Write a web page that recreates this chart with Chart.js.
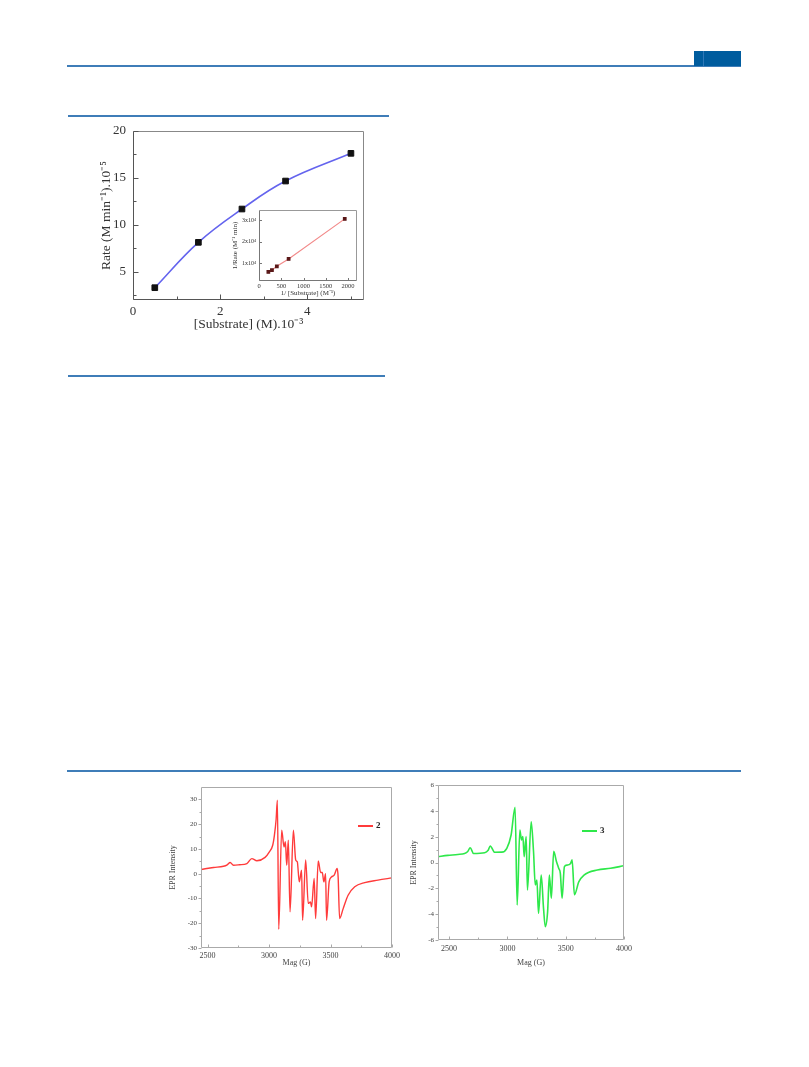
<!DOCTYPE html>
<html>
<head>
<meta charset="utf-8">
<script src="https://cdn.jsdelivr.net/npm/chart.js@4.4.0/dist/chart.umd.min.js"></script>
<style>
  body { margin: 0; background: #fff; }
  #page { position: relative; width: 809px; height: 1067px; overflow: hidden; background: #fff; }
  .rule { position: absolute; height: 2px; background: #3f7db8; }
  canvas { position: absolute; }
  .key { position: absolute; font: bold 9px "Liberation Serif", serif; color: #222; }
  .key span { display: inline-block; width: 15px; height: 1.5px; vertical-align: middle; margin-right: 3px; }
</style>
</head>
<body>
<div id="page">
  <div class="rule" style="left:67px;top:65px;width:674px;"></div>
  <div style="position:absolute;left:694px;top:51px;width:47px;height:15px;background:#005c9e;"></div>
  <div style="position:absolute;left:703px;top:51px;width:1px;height:15px;background:#2f78b8;"></div>

  <div class="rule" style="left:68px;top:115px;width:321px;"></div>
  <div class="rule" style="left:68px;top:375px;width:317px;"></div>
  <div class="rule" style="left:67px;top:770px;width:674px;"></div>

  <canvas id="mainChart" width="276" height="218" style="left:98px;top:115px;"></canvas>
  <canvas id="insetChart" width="134" height="94" style="left:231px;top:203px;"></canvas>
  <canvas id="eprRed" width="236" height="190" style="left:168px;top:778px;"></canvas>
  <canvas id="eprGreen" width="228" height="192" style="left:409px;top:776px;"></canvas>

  <div class="key" style="left:358px;top:820px;"><span style="background:#ff3b3b"></span>2</div>
  <div class="key" style="left:582px;top:825px;"><span style="background:#2ee84a"></span>3</div>
</div>

<script>
// main plot: rate vs [substrate]
const substrate = [0.5, 1.5, 2.5, 3.5, 5.0];
const rate = [3.31, 8.14, 11.69, 14.67, 17.62];
const mainXTicks = [0, 1, 2, 3, 4, 5];
const mainXLabels = [0, 2, 4];
const mainYTicks = [2.5, 5, 7.5, 10, 12.5, 15, 17.5, 20];
const mainYLabels = [5, 10, 15, 20];

// inset: double reciprocal plot
const invSubstrate = [210, 290, 400, 665, 1925];
const invRate = [6000, 6800, 8600, 12000, 30500];
const insetXTicks = [0, 500, 1000, 1500, 2000];
const insetYTicks = [10000, 20000, 30000];

// EPR spectrum of 2
const fieldRed = [2447, 2549, 2630, 2660, 2684, 2711, 2760, 2820, 2860, 2901, 2968, 3003, 3030, 3044, 3058, 3068,
  3079, 3103, 3122, 3133, 3144, 3157, 3171, 3198, 3217, 3230, 3246, 3265, 3273, 3298, 3319, 3337, 3346, 3367,
  3379, 3400, 3420, 3433, 3446, 3460, 3468, 3489, 3508, 3530, 3554, 3562, 3574, 3603, 3643, 3697, 3778, 3886, 4000];
const intensityRed = [1.7, 2.5, 3.0, 3.6, 4.5, 3.4, 3.6, 4.1, 6.1, 5.2, 6.6, 8.8, 11.5, 15.6, 22, 29.7,
  -22.4, 17.6, 10.8, 12.9, 3.4, 13.5, -15.4, 17.6, 5.5, 4.8, -3.3, 1.4, -18.8, 5.5, -12.0, -11.4, -13.4, -1.9,
  -18.1, 5.1, 0.5, 0.5, -3.3, 0.0, -18.8, -3.3, -1.3, -0.6, 2.1, -1.3, -18.1, -14.1, -8.7, -5.3, -3.6, -2.6, -1.7];
const redXTicks = [2500, 2750, 3000, 3250, 3500, 3750, 4000];
const redXLabels = [2500, 3000, 3500, 4000];
const redYTicks = [-30, -25, -20, -15, -10, -5, 0, 5, 10, 15, 20, 25, 30];
const redYLabels = [-30, -20, -10, 0, 10, 20, 30];

// EPR spectrum of 3
const fieldGreen = [2403, 2489, 2575, 2633, 2660, 2681, 2710, 2805, 2835, 2853, 2891, 2952, 2995, 3032, 3066,
  3084, 3107, 3121, 3133, 3144, 3161, 3172, 3204, 3224, 3239, 3253, 3267, 3290, 3310, 3325, 3345, 3360, 3377,
  3397, 3420, 3440, 3454, 3469, 3489, 3512, 3540, 3555, 3575, 3612, 3657, 3771, 3885, 4000];
const intensityGreen = [0.45, 0.55, 0.62, 0.7, 0.85, 1.14, 0.7, 0.76, 0.95, 1.28, 0.79, 0.8, 1.1, 2.13, 4.27,
  -3.29, 2.52, 1.74, 2.0, 0.45, 2.0, -2.13, 3.16, 0.87, -1.74, -1.35, -3.93, -0.97, -3.55, -4.97, -3.8, -0.97, -2.77,
  0.87, 0.1, -0.45, -0.84, -2.77, -0.32, -0.2, -0.1, 0.2, -2.5, -1.5, -0.97, -0.58, -0.45, -0.25];
const greenXTicks = [2500, 2750, 3000, 3250, 3500, 3750, 4000];
const greenXLabels = [2500, 3000, 3500, 4000];
const greenYTicks = [-6, -5, -4, -3, -2, -1, 0, 1, 2, 3, 4, 5, 6];
const greenYLabels = [-6, -4, -2, 0, 2, 4, 6];

const serif = '"Liberation Serif", "Times New Roman", serif';

// box around the plot area plus tick marks taken from the scales
const framePlugin = {
  id: 'frame',
  afterDatasetsDraw(chart, args, o) {
    const { ctx, chartArea: a } = chart;
    const l = Math.round(a.left) + 0.5, r = Math.round(a.right) - 0.5;
    const t = Math.round(a.top) + 0.5, b = Math.round(a.bottom) - 0.5;
    ctx.save();
    ctx.lineWidth = 1;
    ctx.strokeStyle = o.color;
    ctx.beginPath();
    ctx.moveTo(l, t); ctx.lineTo(r, t); ctx.lineTo(r, b);
    ctx.stroke();
    ctx.strokeStyle = o.axisColor || o.color;
    ctx.beginPath();
    ctx.moveTo(l, t); ctx.lineTo(l, b); ctx.lineTo(r, b);
    ctx.stroke();
    const xs = chart.scales.x, ys = chart.scales.y;
    ctx.beginPath();
    xs.ticks.forEach(tk => {
      const px = Math.round(xs.getPixelForValue(tk.value)) + 0.5;
      const len = tk.label ? o.major : o.minor;
      ctx.moveTo(px, b);
      ctx.lineTo(px, o.xIn ? b - len : b + len);
    });
    ys.ticks.forEach(tk => {
      const py = Math.round(ys.getPixelForValue(tk.value)) + 0.5;
      const len = tk.label ? o.major : o.minor;
      ctx.moveTo(l, py);
      ctx.lineTo(o.yIn ? l + len : l - len, py);
    });
    ctx.stroke();
    ctx.restore();
  }
};

function axis(o) {
  return {
    type: 'linear',
    min: o.min,
    max: o.max,
    afterBuildTicks: s => { s.ticks = o.ticks.map(v => ({ value: v })); },
    afterFit: s => { if (o.width) s.width = o.width; if (o.height) s.height = o.height; },
    grid: { display: false, drawTicks: false },
    border: { display: false },
    ticks: {
      padding: o.pad,
      color: o.color || '#333',
      autoSkip: false,
      maxRotation: 0,
      font: { family: serif, size: o.size },
      callback: v => o.labels.includes(v) ? (o.fmt ? o.fmt(v) : String(v)) : ''
    },
    title: {
      display: true,
      text: o.title,
      padding: 0,
      color: o.color || '#333',
      font: { family: serif, size: o.titleSize || o.size }
    }
  };
}

Chart.defaults.animation = false;
Chart.defaults.responsive = false;
Chart.defaults.plugins.legend.display = false;
Chart.defaults.plugins.tooltip.enabled = false;

new Chart(document.getElementById('mainChart'), {
  type: 'line',
  data: {
    datasets: [{
      data: substrate.map((s, i) => ({ x: s, y: rate[i] })),
      borderColor: '#6464ee',
      borderWidth: 1.6,
      tension: 0.4,
      pointStyle: 'rect',
      pointRadius: 4,
      pointBackgroundColor: '#111',
      pointBorderColor: '#111',
      pointBorderWidth: 1
    }]
  },
  options: {
    layout: { padding: { top: 16, right: 10, left: 0, bottom: 0 } },
    scales: {
      x: axis({ min: 0, max: 5.3, ticks: mainXTicks, labels: mainXLabels, size: 13, pad: 4, height: 33,
        title: '[Substrate] (M).10⁻³', titleSize: 13.5 }),
      y: axis({ min: 2, max: 20, ticks: mainYTicks, labels: mainYLabels, size: 13, pad: 7, width: 35,
        title: 'Rate (M min⁻¹).10⁻⁵', titleSize: 13.5 })
    },
    plugins: { frame: { color: '#888', axisColor: '#555', major: 5, minor: 3, xIn: true, yIn: true } }
  },
  plugins: [framePlugin]
});

new Chart(document.getElementById('insetChart'), {
  type: 'line',
  data: {
    datasets: [{
      data: invSubstrate.map((s, i) => ({ x: s, y: invRate[i] })),
      borderColor: '#f28a8a',
      borderWidth: 1.2,
      pointStyle: 'rect',
      pointRadius: 1.8,
      pointBackgroundColor: '#5a1818',
      pointBorderColor: '#5a1818'
    }]
  },
  options: {
    layout: { padding: { top: 7, right: 8, left: 0, bottom: 0 } },
    scales: {
      x: axis({ min: 0, max: 2200, ticks: insetXTicks, labels: insetXTicks, size: 6.5, pad: 1, height: 16,
        title: '1/ [Substrate] (M⁻¹)', titleSize: 7 }),
      y: axis({ min: 1800, max: 34600, ticks: insetYTicks, labels: insetYTicks, size: 6, pad: 3, width: 28,
        fmt: v => (v / 10000) + 'x10⁴', title: '1/Rate (M⁻¹ min)', titleSize: 7 })
    },
    plugins: { frame: { color: '#999', axisColor: '#777', major: 2.5, minor: 1.5, xIn: true, yIn: true } }
  },
  plugins: [framePlugin]
});

new Chart(document.getElementById('eprRed'), {
  type: 'line',
  data: {
    datasets: [{
      label: '2',
      data: fieldRed.map((f, i) => ({ x: f, y: intensityRed[i] })),
      borderColor: '#ff3b3b',
      borderWidth: 1.4,
      cubicInterpolationMode: 'monotone',
      pointRadius: 0
    }]
  },
  options: {
    layout: { padding: { top: 9, right: 12, left: 0, bottom: 0 } },
    scales: {
      x: axis({ min: 2447, max: 4000, ticks: redXTicks, labels: redXLabels, size: 8, pad: 3, height: 20,
        color: '#444', title: 'Mag (G)' }),
      y: axis({ min: -30, max: 35, ticks: redYTicks, labels: redYLabels, size: 7, pad: 4, width: 33,
        color: '#444', title: 'EPR Intensity', titleSize: 8 })
    },
    plugins: { frame: { color: '#aaa', major: 3, minor: 2, xIn: true, yIn: false } }
  },
  plugins: [framePlugin]
});

new Chart(document.getElementById('eprGreen'), {
  type: 'line',
  data: {
    datasets: [{
      label: '3',
      data: fieldGreen.map((f, i) => ({ x: f, y: intensityGreen[i] })),
      borderColor: '#2ee84a',
      borderWidth: 1.6,
      cubicInterpolationMode: 'monotone',
      pointRadius: 0
    }]
  },
  options: {
    layout: { padding: { top: 9, right: 13, left: 0, bottom: 0 } },
    scales: {
      x: axis({ min: 2405, max: 4000, ticks: greenXTicks, labels: greenXLabels, size: 8, pad: 4, height: 28,
        color: '#444', title: 'Mag (G)' }),
      y: axis({ min: -6, max: 6, ticks: greenYTicks, labels: greenYLabels, size: 7, pad: 4, width: 29,
        color: '#444', title: 'EPR Intensity', titleSize: 8 })
    },
    plugins: { frame: { color: '#aaa', major: 3, minor: 2, xIn: true, yIn: false } }
  },
  plugins: [framePlugin]
});
</script>
</body>
</html>
